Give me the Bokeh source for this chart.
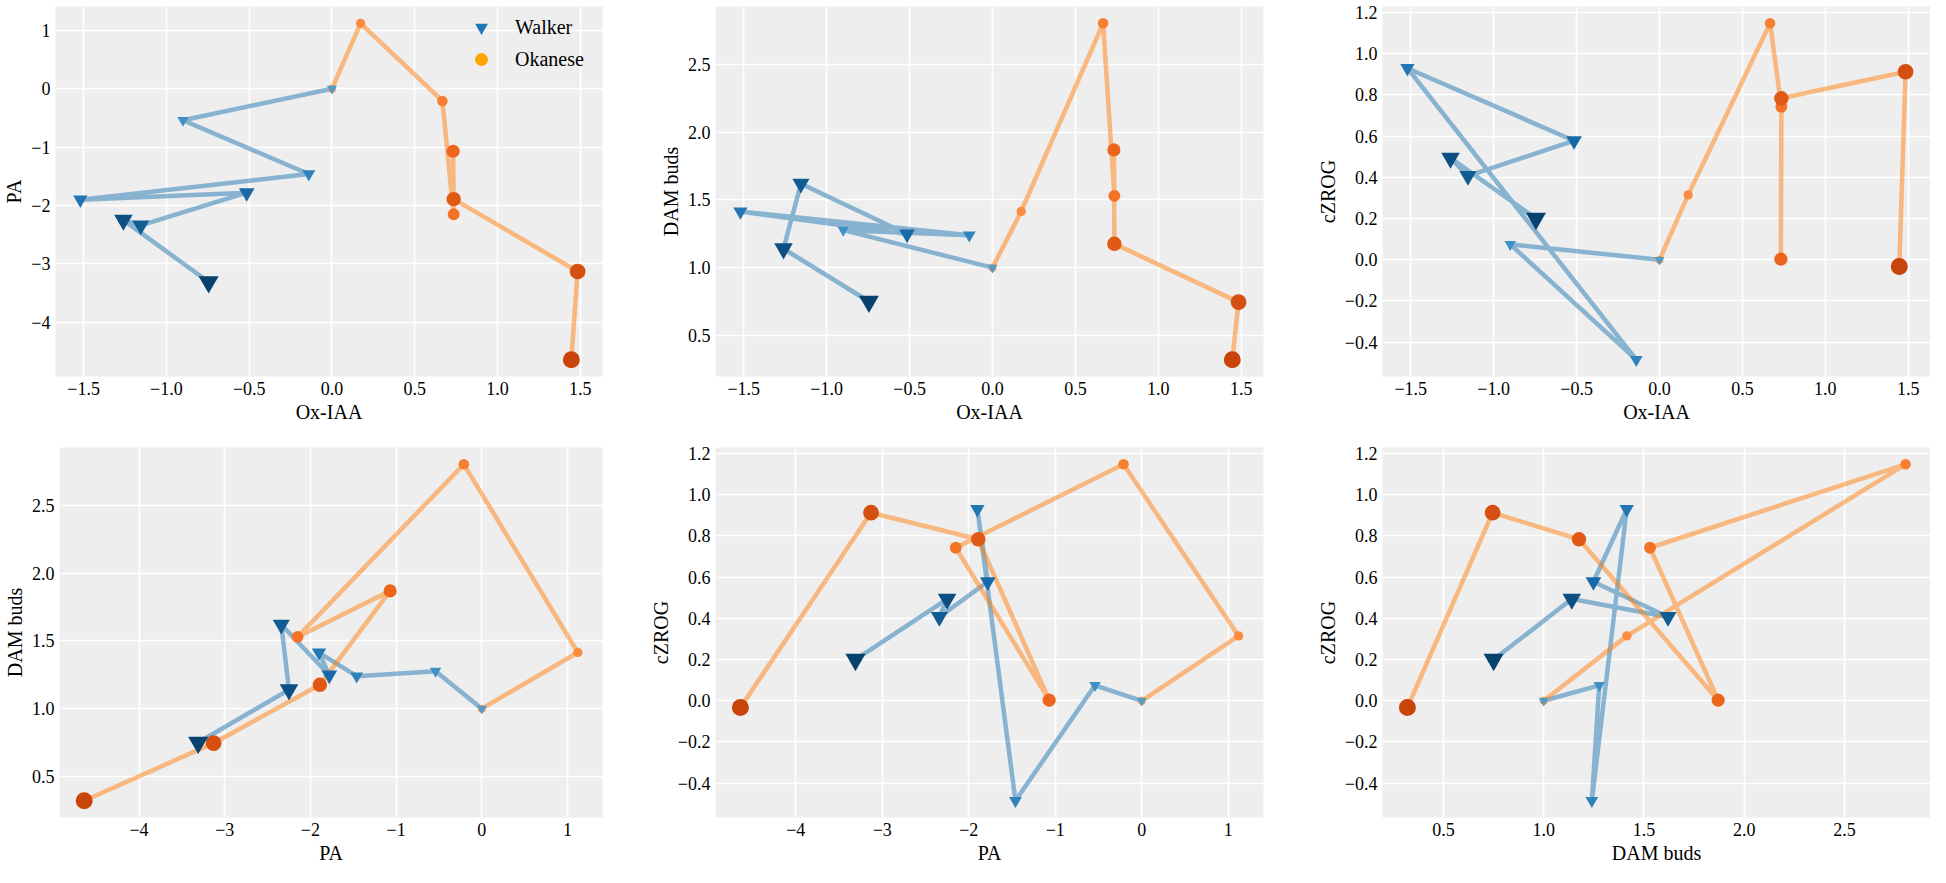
from bokeh.plotting import figure
from bokeh.layouts import row, column
from bokeh.models import Range1d, FixedTicker, CustomJSTickFormatter, Legend, LegendItem
from bokeh.embed import file_html
from bokeh.resources import INLINE

# ---------------- data ----------------
variables = ["Ox-IAA", "PA", "DAM buds", "cZROG"]

walker_ox = [0.0, -0.90, -0.14, -1.52, -0.515, -1.155, -1.26, -0.745]
walker_pa = [0.0, -0.54, -1.46, -1.90, -1.78, -2.34, -2.25, -3.31]
walker_dam = [1.0, 1.277, 1.24, 1.414, 1.248, 1.62, 1.14, 0.75]
walker_czrog = [0.0, 0.075, -0.485, 0.93, 0.578, 0.407, 0.494, 0.2]

okanese_ox = [0.0, 0.173, 0.667, 0.735, 0.732, 0.735, 1.484, 1.446]
okanese_pa = [0.0, 1.12, -0.21, -2.15, -1.07, -1.89, -3.13, -4.64]
okanese_dam = [1.0, 1.415, 2.805, 1.53, 1.87, 1.176, 0.745, 0.32]
okanese_czrog = [0.0, 0.315, 1.148, 0.743, 0.003, 0.784, 0.913, -0.033]

ox_ticks = [-1.5, -1.0, -0.5, 0.0, 0.5, 1.0, 1.5]
pa_ticks = [-4, -3, -2, -1, 0, 1]
dam_ticks = [0.5, 1.0, 1.5, 2.0, 2.5]
czrog_ticks = [-0.4, -0.2, 0.0, 0.2, 0.4, 0.6, 0.8, 1.0, 1.2]

series_names = ["Walker", "Okanese"]

panel_pairs = [("Ox-IAA", "PA"), ("Ox-IAA", "DAM buds"), ("Ox-IAA", "cZROG"),
               ("PA", "DAM buds"), ("PA", "cZROG"), ("DAM buds", "cZROG")]

walker = {"Ox-IAA": walker_ox, "PA": walker_pa, "DAM buds": walker_dam, "cZROG": walker_czrog}
okanese = {"Ox-IAA": okanese_ox, "PA": okanese_pa, "DAM buds": okanese_dam, "cZROG": okanese_czrog}
ticks = {"Ox-IAA": ox_ticks, "PA": pa_ticks, "DAM buds": dam_ticks, "cZROG": czrog_ticks}
decimals = {"Ox-IAA": 1, "PA": 0, "DAM buds": 1, "cZROG": 1}

# ---------------- styling ----------------
FONT = "'Liberation Serif'"
BG = "#eeeeee"
NAN = float("nan")


def hex2rgb(h):
    h = h.lstrip("#")
    return tuple(int(h[i:i + 2], 16) for i in (0, 2, 4))


def ramp(anchors, n):
    cols = []
    segs = len(anchors) - 1
    for i in range(n):
        t = i / (n - 1) * segs
        k = min(int(t), segs - 1)
        f = t - k
        a, b = hex2rgb(anchors[k]), hex2rgb(anchors[k + 1])
        c = tuple(round(a[j] + (b[j] - a[j]) * f) for j in range(3))
        cols.append("#%02x%02x%02x" % c)
    return cols


def lin(a, b, n):
    return [a + (b - a) * i / (n - 1) for i in range(n)]


n_w = len(walker_ox)
n_o = len(okanese_ox)
walker_colors = ramp(["#4f9dcd", "#1b70b0", "#07426f"], n_w)
okanese_colors = ramp(["#fd9a4e", "#f26b1d", "#c8440b"], n_o)
walker_sizes = lin(10, 20, n_w)
okanese_sizes = lin(8, 17, n_o)


def pad_range(vals, frac=0.05):
    lo, hi = min(vals), max(vals)
    d = (hi - lo) * frac
    return lo - d, hi + d


def formatter(d):
    code = """
    const a = Math.abs(tick);
    if (a < 1e-9) { return (0).toFixed(%d); }
    return (tick < 0 ? "\\u2212" : "") + a.toFixed(%d);
    """ % (d, d)
    return CustomJSTickFormatter(code=code)


def style_axis(ax, label, var):
    ax.axis_label = label
    ax.ticker = FixedTicker(ticks=ticks[var], minor_ticks=[])
    ax.formatter = formatter(decimals[var])
    ax.axis_line_color = None
    ax.major_tick_line_color = None
    ax.minor_tick_line_color = None
    ax.major_tick_out = 0
    ax.major_tick_in = 0
    ax.major_label_standoff = 5
    ax.axis_label_standoff = 3
    ax.major_label_text_font = FONT
    ax.major_label_text_font_size = "18px"
    ax.major_label_text_color = "black"
    ax.axis_label_text_font = FONT
    ax.axis_label_text_font_size = "20px"
    ax.axis_label_text_font_style = "normal"
    ax.axis_label_text_color = "black"


FRAME_W = 548
FRAME_H = 370
col_borders = [(54, 43), (70, 44), (75, 0)]
row_borders = [(6, 65), (6, 50)]
LEG_ROW = 32
LEG_PAD = 2


def make_panel(idx):
    xv, yv = panel_pairs[idx]
    r, c = divmod(idx, 3)
    bl, br = col_borders[c]
    bt, bb = row_borders[r]
    xr = pad_range(walker[xv] + okanese[xv])
    yr = pad_range(walker[yv] + okanese[yv])
    p = figure(width=bl + FRAME_W + br, height=bt + FRAME_H + bb,
               x_range=Range1d(*xr), y_range=Range1d(*yr),
               output_backend="svg", toolbar_location=None,
               min_border_left=bl, min_border_right=br,
               min_border_top=bt, min_border_bottom=bb,
               background_fill_color=BG, border_fill_color="white",
               outline_line_color=None)
    style_axis(p.xaxis[0], xv, xv)
    style_axis(p.yaxis[0], yv, yv)
    for g in (p.xgrid[0], p.ygrid[0]):
        g.grid_line_color = "white"
        g.grid_line_width = 1.6

    p.line(walker[xv], walker[yv], line_color="#1f77b4", line_alpha=0.5, line_width=4.5)
    p.line(okanese[xv], okanese[yv], line_color="#ff7f0e", line_alpha=0.5, line_width=4.5)
    p.scatter(x=okanese[xv], y=okanese[yv], marker="circle", size=okanese_sizes,
              fill_color=okanese_colors, line_color=None)
    p.scatter(x=walker[xv], y=walker[yv], marker="inverted_triangle", size=walker_sizes,
              fill_color=walker_colors, line_color=None)

    if idx == 0:
        lw = p.scatter(x=[NAN], y=[NAN], marker="inverted_triangle", size=14,
                       fill_color="#1f77b4", line_color=None)
        lo = p.scatter(x=[NAN], y=[NAN], marker="circle", size=14,
                       fill_color="#ffa500", line_color=None)
        leg_h = 2 * LEG_ROW + 2 * LEG_PAD
        legend = Legend(items=[LegendItem(label=series_names[0], renderers=[lw]),
                               LegendItem(label=series_names[1], renderers=[lo])],
                        location=(408, FRAME_H - 1 - leg_h), margin=0, padding=LEG_PAD,
                        spacing=0, glyph_width=36, glyph_height=LEG_ROW, label_height=LEG_ROW,
                        label_standoff=16, border_line_color=None,
                        background_fill_alpha=0,
                        label_text_font=FONT, label_text_font_size="20px",
                        label_text_color="black")
        p.add_layout(legend)
    return p


panels = [make_panel(i) for i in range(6)]
layout = column(row(*panels[:3]), row(*panels[3:]))

open("out.html", "w", encoding="utf-8").write(file_html(layout, INLINE))
